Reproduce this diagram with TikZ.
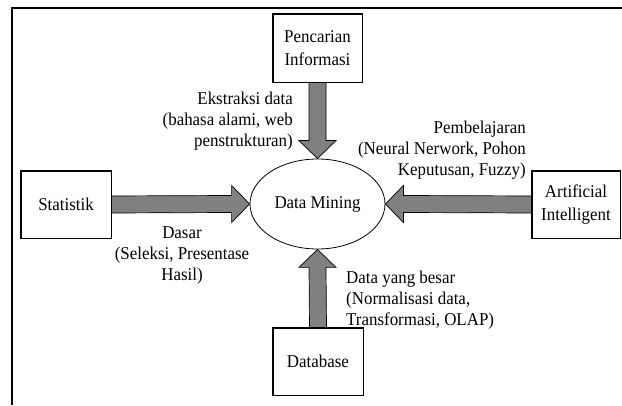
\documentclass[tikz,border=0pt]{standalone}
\usepackage{fontspec}
\setmainfont{Liberation Serif}[FakeStretch=0.94]
\usetikzlibrary{calc,shapes.geometric}
\tikzset{
  box/.style={draw=black, line width=0.8pt, fill=white, rectangle, minimum width=90pt, minimum height=67pt, align=center, inner sep=2pt},
  fat/.style={draw=black, line width=0.7pt, fill=black!50, line join=miter},
  lbl/.style={inner sep=0pt},
  frame/.style={draw=black, line width=1.6pt}
}
\begin{document}
\begin{tikzpicture}[x=1pt,y=1pt,font=\fontsize{18}{21}\selectfont]
\useasboundingbox (0,0) rectangle (622,405);
\draw[frame] (12,0) -- (12,397) -- (622,397);

\node[box, minimum width=89pt, minimum height=68pt, font=\fontsize{18}{23}\selectfont] (pi) at (317.5,357) {Pencarian\\Informasi};
\node[draw=black, line width=0.8pt, ellipse, minimum width=135pt, minimum height=90pt, inner sep=0pt] (dm) at (317.5,201) {Data Mining};
\node[box] (st) at (66,200.5) {Statistik};
\node[box, minimum width=88pt, font=\fontsize{18}{23}\selectfont] (ai) at (576,200.5) {Artificial\\Intelligent};
\node[box] (db) at (318,43.5) {Database};

% fat arrows
\draw[fat] ($(pi.south)+(-8.5,0)$) -- ($(dm.north)+(-8.5,18)$) -- ($(dm.north)+(-18.5,18)$) -- (dm.north)
  -- ($(dm.north)+(18.5,18)$) -- ($(dm.north)+(8.5,18)$) -- ($(pi.south)+(8.5,0)$) -- cycle;
\draw[fat] ($(db.north)+(-8.5,0)$) -- ($(dm.south)+(-8.5,-18)$) -- ($(dm.south)+(-18.5,-18)$) -- (dm.south)
  -- ($(dm.south)+(18.5,-18)$) -- ($(dm.south)+(8.5,-18)$) -- ($(db.north)+(8.5,0)$) -- cycle;
\draw[fat] ($(st.east)+(0,8.5)$) -- ($(dm.west)+(-18,8.5)$) -- ($(dm.west)+(-18,18.5)$) -- (dm.west)
  -- ($(dm.west)+(-18,-18.5)$) -- ($(dm.west)+(-18,-8.5)$) -- ($(st.east)+(0,-8.5)$) -- cycle;
\draw[fat] ($(ai.west)+(0,8.5)$) -- ($(dm.east)+(18,8.5)$) -- ($(dm.east)+(18,18.5)$) -- (dm.east)
  -- ($(dm.east)+(18,-18.5)$) -- ($(dm.east)+(18,-8.5)$) -- ($(ai.west)+(0,-8.5)$) -- cycle;

% redraw box borders on top
\foreach \n in {pi,st,ai,db}{\draw[line width=0.8pt] (\n.south west) rectangle (\n.north east);}

% labels
\node[lbl, align=right, anchor=east] (l1) at (293,283.5) {Ekstraksi data\\(bahasa alami, web\\penstrukturan)};
\node[lbl, align=right, anchor=east] (l2) at (526,255) {Pembelajaran\\(Neural Nerwork, Pohon\\Keputusan, Fuzzy)};
\node[lbl, align=center] (l3) at (182,149) {Dasar\\(Seleksi, Presentase\\Hasil)};
\node[lbl, align=left, anchor=west] (l4) at (346,105) {Data yang besar\\(Normalisasi data,\\Transformasi, OLAP)};
\end{tikzpicture}
\end{document}
